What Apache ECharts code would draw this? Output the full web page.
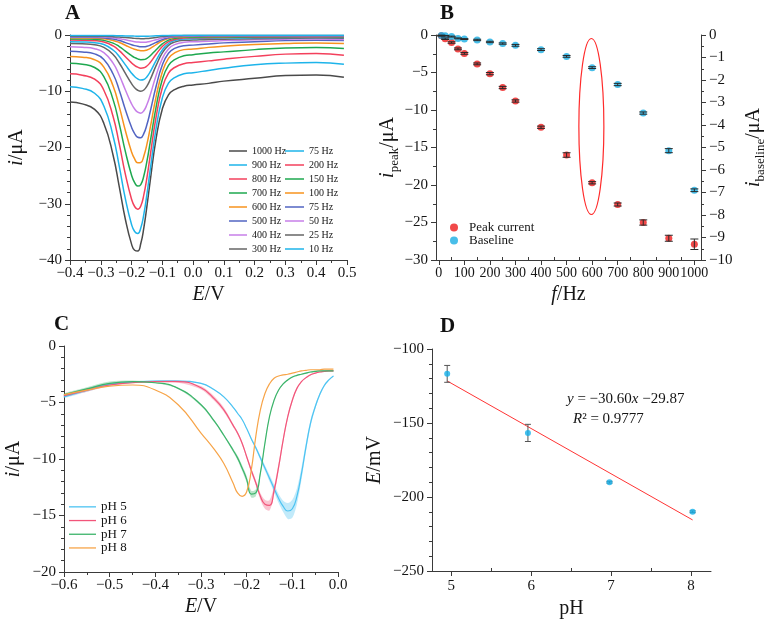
<!DOCTYPE html>
<html>
<head>
<meta charset="utf-8">
<script src="https://cdn.jsdelivr.net/npm/echarts@6/dist/echarts.min.js"></script>
<style>
  html, body { margin: 0; padding: 0; background: #fff; }
  #main { width: 768px; height: 623px; }
</style>
</head>
<body>
<div id="main"></div>
<script>
// ---------- A: square-wave voltammograms at different frequencies ----------
var potA = [-0.40, -0.36, -0.32, -0.29, -0.26, -0.24, -0.22, -0.20, -0.19, -0.18, -0.17, -0.16, -0.15,
  -0.14, -0.12, -0.10, -0.08, -0.06, -0.03, 0.00, 0.05, 0.10, 0.20, 0.30, 0.40, 0.49];
var i1000 = [-11.9, -12.24, -13.23, -15.72, -21.38, -26.94, -32.80, -37.18, -38.27, -38.41, -37.07, -34.25, -30.44,
  -26.19, -18.33, -13.15, -10.64, -9.72, -9.1, -8.9, -8.6, -8.2, -7.7, -7.2, -7.1, -7.5];
var i900 = [-9.2, -9.49, -10.36, -12.63, -17.95, -23.32, -29.15, -33.68, -34.93, -35.3, -34.32, -31.84, -28.30,
  -24.26, -16.50, -11.19, -8.55, -7.56, -6.9, -6.7, -6.3, -5.9, -5.3, -5.0, -4.9, -5.2];
var i800 = [-6.9, -7.14, -7.86, -9.82, -14.50, -19.37, -24.78, -29.19, -30.49, -30.98, -30.39, -28.39, -25.34,
  -21.68, -14.49, -9.39, -6.78, -5.78, -5.1, -4.9, -4.6, -4.3, -3.8, -3.4, -3.3, -3.6];
var i700 = [-5.0, -5.18, -5.78, -7.42, -11.49, -15.81, -20.74, -24.93, -26.24, -26.86, -26.58, -25.02, -22.43,
  -19.25, -12.72, -7.92, -5.40, -4.39, -3.7, -3.5, -3.2, -3.0, -2.6, -2.3, -2.2, -2.4];
var i600 = [-3.8, -3.94, -4.40, -5.71, -9.07, -12.73, -17.02, -20.79, -22.04, -22.71, -22.66, -21.50, -19.40,
  -16.70, -10.92, -6.56, -4.16, -3.19, -2.6, -2.5, -2.2, -2.0, -1.7, -1.5, -1.4, -1.5];
var i500 = [-2.9, -3.01, -3.36, -4.35, -6.94, -9.81, -13.28, -16.41, -17.52, -18.17, -18.25, -17.50, -15.92,
  -13.78, -9.07, -5.34, -3.24, -2.37, -1.9, -1.8, -1.6, -1.4, -1.2, -1.0, -0.95, -1.0];
var i400 = [-2.1, -2.19, -2.43, -3.14, -5.01, -7.16, -9.77, -12.25, -13.16, -13.73, -13.9, -13.46, -12.36,
  -10.79, -7.16, -4.19, -2.47, -1.72, -1.3, -1.2, -1.1, -1.0, -0.85, -0.75, -0.7, -0.8];
var i300 = [-1.5, -1.56, -1.72, -2.20, -3.48, -4.98, -6.84, -8.66, -9.36, -9.82, -9.99, -9.78, -9.08,
  -8.01, -5.41, -3.19, -1.85, -1.26, -0.95, -0.9, -0.8, -0.75, -0.65, -0.6, -0.55, -0.6];
var i250 = [-1.2, -1.24, -1.36, -1.70, -2.67, -3.82, -5.31, -6.79, -7.38, -7.79, -7.99, -7.90, -7.41,
  -6.59, -4.51, -2.66, -1.51, -0.99, -0.7, -0.65, -0.6, -0.55, -0.5, -0.45, -0.42, -0.45];
var i200 = [-0.9, -0.93, -1.01, -1.26, -1.95, -2.78, -3.87, -4.96, -5.41, -5.72, -5.89, -5.84, -5.51,
  -4.94, -3.42, -2.05, -1.19, -0.79, -0.55, -0.5, -0.47, -0.44, -0.4, -0.37, -0.35, -0.37];
var i150 = [-0.7, -0.72, -0.77, -0.95, -1.44, -2.05, -2.85, -3.67, -4.01, -4.25, -4.38, -4.37, -4.14,
  -3.73, -2.61, -1.57, -0.91, -0.60, -0.42, -0.4, -0.37, -0.35, -0.32, -0.3, -0.28, -0.3];
var i100 = [-0.5, -0.52, -0.56, -0.67, -0.97, -1.34, -1.82, -2.33, -2.54, -2.70, -2.78, -2.79, -2.66,
  -2.41, -1.71, -1.05, -0.63, -0.42, -0.3, -0.28, -0.26, -0.25, -0.23, -0.21, -0.2, -0.21];
var i75 = [-0.40, -0.41, -0.44, -0.51, -0.72, -0.99, -1.35, -1.73, -1.89, -2.01, -2.09, -2.09, -2.01,
  -1.83, -1.32, -0.82, -0.49, -0.33, -0.23, -0.22, -0.2, -0.19, -0.18, -0.17, -0.16, -0.17];
var i50 = [-0.30, -0.30, -0.32, -0.36, -0.49, -0.65, -0.86, -1.08, -1.18, -1.25, -1.29, -1.30, -1.25,
  -1.14, -0.83, -0.52, -0.32, -0.23, -0.17, -0.16, -0.15, -0.14, -0.13, -0.12, -0.12, -0.12];
var i25 = [-0.20, -0.20, -0.21, -0.23, -0.29, -0.36, -0.46, -0.55, -0.60, -0.63, -0.65, -0.65, -0.62,
  -0.57, -0.43, -0.28, -0.19, -0.14, -0.11, -0.1, -0.1, -0.1, -0.09, -0.09, -0.08, -0.09];
var i10 = [-0.08, -0.08, -0.08, -0.09, -0.10, -0.13, -0.16, -0.19, -0.20, -0.21, -0.22, -0.22, -0.21,
  -0.20, -0.15, -0.10, -0.07, -0.06, -0.05, -0.05, -0.05, -0.05, -0.04, -0.04, -0.04, -0.04];

var namesA1 = ['1000 Hz', '900 Hz', '800 Hz', '700 Hz', '600 Hz', '500 Hz', '400 Hz', '300 Hz'];
var namesA2 = ['250 Hz', '200 Hz', '150 Hz', '100 Hz', '75 Hz', '50 Hz', '25 Hz', '10 Hz'];
var curvesA = [i1000, i900, i800, i700, i600, i500, i400, i300, i250, i200, i150, i100, i75, i50, i25, i10];
var colorsA = ['#4a4a4a', '#1eb4ea', '#f3405c', '#1ea84f', '#f7931e', '#5264c2', '#c77fe8', '#666666',
  '#1eb4ea', '#f3405c', '#1ea84f', '#f7931e', '#5264c2', '#c77fe8', '#666666', '#1eb4ea'];

// ---------- B: peak current and baseline vs frequency ----------
var freqB = [10, 25, 50, 75, 100, 150, 200, 250, 300, 400, 500, 600, 700, 800, 900, 1000];
var peakB = [-0.1, -0.5, -1.0, -1.85, -2.45, -3.85, -5.15, -7.0, -8.8, -12.3, -16.0, -19.7, -22.6, -25.0, -27.1, -27.9];
var peakErrB = [0.05, 0.1, 0.1, 0.12, 0.12, 0.12, 0.15, 0.15, 0.15, 0.15, 0.3, 0.15, 0.2, 0.35, 0.4, 0.7];
var baseB = [-0.02, -0.03, -0.07, -0.15, -0.18, -0.22, -0.31, -0.38, -0.46, -0.65, -0.95, -1.45, -2.2, -3.47, -5.14, -6.9];
var baseErrB = [0.01, 0.01, 0.02, 0.02, 0.02, 0.03, 0.03, 0.03, 0.04, 0.04, 0.04, 0.04, 0.05, 0.05, 0.09, 0.06];
var ticksB = [0, 100, 200, 300, 400, 500, 600, 700, 800, 900, 1000];
var minorB = [50, 150, 250, 350, 450, 550, 650, 750, 850, 950];
var ovalB = [597, -12.2]; // centre of the red ring around 600 Hz

// ---------- C: voltammograms at different pH ----------
var potC = [-0.60, -0.55, -0.50, -0.45, -0.40, -0.35, -0.30, -0.27, -0.25, -0.23, -0.22, -0.21, -0.20, -0.19,
  -0.18, -0.17, -0.16, -0.15, -0.14, -0.13, -0.12, -0.11, -0.10, -0.09, -0.08, -0.07, -0.06, -0.05, -0.04,
  -0.03, -0.02, -0.01];
var ph5 = [-4.5, -3.9, -3.4, -3.2, -3.1, -3.1, -3.3, -3.9, -4.5, -5.4, -5.95, -6.5, -7.3, -8.2, -9.0, -9.9,
  -10.8, -11.7, -12.6, -13.5, -14.2, -14.6, -14.4, -13.3, -11.3, -8.9, -6.8, -5.4, -4.3, -3.5, -3.0, -2.65];
var ph6 = [-4.4, -3.9, -3.45, -3.25, -3.15, -3.15, -3.7, -4.7, -5.65, -7.0, -7.7, -8.6, -9.8, -11.0, -12.1, -13.3,
  -14.0, -14.1, -12.8, -10.7, -8.3, -6.25, -4.8, -3.75, -3.15, -2.8, -2.55, -2.4, -2.3, -2.25, -2.2, -2.2];
var ph7 = [-4.3, -3.8, -3.3, -3.15, -3.25, -3.75, -5.2, -6.7, -7.9, -9.2, -9.9, -10.8, -11.8, -13.1, -13.0, -11.25,
  -8.6, -6.25, -4.8, -3.9, -3.35, -3.0, -2.75, -2.6, -2.5, -2.4, -2.3, -2.25, -2.2, -2.2, -2.2, -2.2];
var ph8 = [-4.3, -3.9, -3.55, -3.45, -3.9, -5.2, -7.7, -9.2, -10.4, -12.1, -13.0, -13.3, -12.9, -11.0, -8.0, -5.65,
  -4.2, -3.35, -2.85, -2.65, -2.55, -2.5, -2.4, -2.3, -2.2, -2.15, -2.1, -2.1, -2.1, -2.05, -2.05, -2.05];
// half width of the shaded spread around each curve
var band5 = [0.1, 0.15, 0.1, 0.05, 0.05, 0.05, 0.05, 0.05, 0.05, 0.05, 0.05, 0.05, 0.05, 0.1, 0.15, 0.2,
  0.25, 0.3, 0.35, 0.4, 0.5, 0.7, 0.8, 0.7, 0.55, 0.4, 0.3, 0.2, 0.15, 0.1, 0.05, 0.05];
var band6 = [0.1, 0.15, 0.1, 0.05, 0.05, 0.1, 0.15, 0.2, 0.2, 0.15, 0.15, 0.15, 0.15, 0.2, 0.25, 0.3,
  0.4, 0.45, 0.4, 0.35, 0.25, 0.2, 0.15, 0.1, 0.05, 0.05, 0.05, 0.05, 0.05, 0.05, 0.05, 0.05];
var band7 = [0.1, 0.15, 0.15, 0.1, 0.05, 0.05, 0.1, 0.1, 0.1, 0.15, 0.2, 0.25, 0.3, 0.3, 0.3, 0.2,
  0.15, 0.1, 0.05, 0.05, 0.05, 0.05, 0.05, 0.05, 0.05, 0.05, 0.05, 0.05, 0.05, 0.05, 0.05, 0.05];
var namesC = ['pH 5', 'pH 6', 'pH 7', 'pH 8'];
var colorsC = ['#4cc3f2', '#f2557a', '#3cb46a', '#f7a448'];

// ---------- D: peak potential vs pH ----------
var phD = [4.95, 5.96, 6.98, 8.02];
var epD = [-116.8, -156.7, -190.0, -210.0];
var epErrD = [5.7, 5.8, 0.6, 0.6];
var fitX = [4.95, 8.02];
var fitY = [-121.6, -215.5];
var ticksD = [5, 6, 7, 8];
var minorD = [5.5, 6.5, 7.5];

var FONT = 'Liberation Serif';
var INK = '#151515';
var AXIS = '#3a3a3a';

function minus(v, dec) {
  var a = Math.abs(v);
  var s = dec ? a.toFixed(dec) : String(Math.round(a));
  return (v < -1e-9 ? '\u2212' : '') + s;
}
function fmt(dec) {
  return function (v) { return minus(v, dec); };
}
function zip(xs, ys) {
  return xs.map(function (x, k) { return [x, ys[k]]; });
}
function nameStyle() {
  return {
    fontFamily: FONT, fontSize: 20, color: INK, lineHeight: 26,
    rich: {
      i: { fontFamily: FONT, fontSize: 20, fontStyle: 'italic', color: INK, lineHeight: 26 },
      s: { fontFamily: FONT, fontSize: 13, color: INK, lineHeight: 26, verticalAlign: 'bottom' }
    }
  };
}
function valAxis(o) {
  var ax = {
    type: 'value', gridIndex: o.grid, min: o.min, max: o.max, position: o.position,
    axisLine: { show: true, onZero: false, lineStyle: { color: AXIS, width: 1 } },
    axisTick: { show: true, length: 5, lineStyle: { color: AXIS } },
    minorTick: { show: !!o.minor, splitNumber: o.minor || 5, length: 3, lineStyle: { color: AXIS } },
    splitLine: { show: false },
    axisLabel: { formatter: fmt(o.dec), fontFamily: FONT, fontSize: o.fs || 15, color: INK,
      margin: o.margin || 7, showMinLabel: true, showMaxLabel: true },
    name: o.name, nameLocation: 'middle', nameGap: o.gap, nameTextStyle: nameStyle()
  };
  if (o.interval) ax.interval = o.interval;
  if (o.rotate) ax.nameRotate = o.rotate;
  if (o.ticks) {
    ax.axisLabel.customValues = o.ticks;
    ax.axisTick.customValues = o.ticks;
  }
  return ax;
}
// bare axis that only carries minor ticks at given values
function minorAxis(grid, min, max, values) {
  return {
    type: 'value', gridIndex: grid, min: min, max: max, position: 'bottom',
    axisLine: { show: false, onZero: false },
    axisTick: { show: true, inside: true, length: 3, customValues: values, lineStyle: { color: AXIS } },
    axisLabel: { show: false, customValues: values },
    splitLine: { show: false }
  };
}
function errorBar(cap, color) {
  return function (params, api) {
    var x = api.value(0);
    var top = api.coord([x, api.value(2)]);
    var bot = api.coord([x, api.value(1)]);
    var st = { stroke: color, lineWidth: 1 };
    return {
      type: 'group',
      children: [
        { type: 'line', shape: { x1: top[0], y1: top[1], x2: bot[0], y2: bot[1] }, style: st },
        { type: 'line', shape: { x1: top[0] - cap, y1: top[1], x2: top[0] + cap, y2: top[1] }, style: st },
        { type: 'line', shape: { x1: bot[0] - cap, y1: bot[1], x2: bot[0] + cap, y2: bot[1] }, style: st }
      ]
    };
  };
}
function errData(xs, ys, es) {
  return xs.map(function (x, k) { return [x, ys[k] - es[k], ys[k] + es[k]]; });
}
function bandRender(xs, ys, half, color) {
  return function (params, api) {
    var up = [], dn = [];
    for (var k = 0; k < xs.length; k++) {
      up.push(api.coord([xs[k], ys[k] + half[k]]));
      dn.unshift(api.coord([xs[k], ys[k] - half[k]]));
    }
    return {
      type: 'polygon', silent: true,
      shape: { points: up.concat(dn), smooth: 0.3 },
      style: { fill: color, opacity: 0.35 }
    };
  };
}

var series = [];
curvesA.forEach(function (arr, k) {
  series.push({
    name: k < 8 ? namesA1[k] : namesA2[k - 8], type: 'line', xAxisIndex: 0, yAxisIndex: 0,
    data: zip(potA, arr), smooth: true, symbol: 'none', color: colorsA[k],
    lineStyle: { width: 1.5 }, z: 3
  });
});

series.push(
  { name: 'Peak current', type: 'scatter', xAxisIndex: 1, yAxisIndex: 1, data: zip(freqB, peakB),
    symbolSize: 7, itemStyle: { color: '#ee1c1c' }, z: 3 },
  { name: 'Baseline', type: 'scatter', xAxisIndex: 1, yAxisIndex: 2, data: zip(freqB, baseB),
    symbolSize: 7, itemStyle: { color: '#1aaee3' }, z: 3 },
  { type: 'custom', xAxisIndex: 1, yAxisIndex: 1, data: errData(freqB, peakB, peakErrB),
    renderItem: errorBar(4, '#2a2a2a'), encode: { x: 0, y: [1, 2] }, z: 5, silent: true },
  { type: 'custom', xAxisIndex: 1, yAxisIndex: 2, data: errData(freqB, baseB, baseErrB),
    renderItem: errorBar(4, '#2a2a2a'), encode: { x: 0, y: [1, 2] }, z: 5, silent: true }
);

var curvesC = [ph5, ph6, ph7, ph8];
var bandsC = [band5, band6, band7];
bandsC.forEach(function (b, k) {
  series.push({ type: 'custom', xAxisIndex: 3, yAxisIndex: 3, data: [[potC[0], curvesC[k][0]]],
    renderItem: bandRender(potC, curvesC[k], b, colorsC[k]), z: 1, silent: true });
});
curvesC.forEach(function (arr, k) {
  series.push({ name: namesC[k], type: 'line', xAxisIndex: 3, yAxisIndex: 3, data: zip(potC, arr),
    smooth: true, symbol: 'none', color: colorsC[k], lineStyle: { width: 1.2 }, z: 3 });
});

series.push(
  { type: 'line', xAxisIndex: 4, yAxisIndex: 4, data: zip(fitX, fitY), symbol: 'none',
    lineStyle: { color: '#ff3434', width: 1 }, z: 2 },
  { type: 'custom', xAxisIndex: 4, yAxisIndex: 4, data: errData(phD, epD, epErrD),
    renderItem: errorBar(3, '#555555'), encode: { x: 0, y: [1, 2] }, z: 3, silent: true },
  { type: 'scatter', xAxisIndex: 4, yAxisIndex: 4, data: zip(phD, epD), symbolSize: 6,
    itemStyle: { color: '#14b0ea' }, z: 4 }
);

var titleStyle = { fontFamily: FONT, fontSize: 21, fontWeight: 'bold', color: '#111' };
var legendText = function (size, lh) {
  return { fontFamily: FONT, fontSize: size, color: INK, lineHeight: lh };
};

var option = {
  backgroundColor: '#ffffff',
  animation: false,
  title: [
    { text: 'A', left: 65, top: 3, padding: 0, textStyle: titleStyle },
    { text: 'B', left: 440, top: 3, padding: 0, textStyle: titleStyle },
    { text: 'C', left: 54, top: 314, padding: 0, textStyle: titleStyle },
    { text: 'D', left: 440, top: 316, padding: 0, textStyle: titleStyle }
  ],
  grid: [
    { left: 70, top: 35, width: 277, height: 225 },
    { left: 436, top: 35, width: 275, height: 225 },
    { left: 59, top: 346, width: 279, height: 226 },
    { left: 432, top: 349, width: 279, height: 225 }
  ],
  xAxis: [
    valAxis({ grid: 0, min: -0.4, max: 0.5, interval: 0.1, minor: 2, dec: 1, position: 'bottom',
      name: '{i|E}/V', gap: 22, margin: 6 }),
    valAxis({ grid: 1, min: -11, max: 1026, ticks: ticksB, dec: 0, position: 'bottom', fs: 14,
      name: '{i|f}/Hz', gap: 22, margin: 6 }),
    minorAxis(1, -11, 1026, minorB),
    valAxis({ grid: 2, min: -0.6, max: 0, interval: 0.1, minor: 2, dec: 1, position: 'bottom',
      name: '{i|E}/V', gap: 21, margin: 6 }),
    valAxis({ grid: 3, min: 4.76, max: 8.25, ticks: ticksD, dec: 0, position: 'bottom',
      name: 'pH', gap: 25, margin: 8 }),
    minorAxis(3, 4.76, 8.25, minorD)
  ],
  yAxis: [
    valAxis({ grid: 0, min: -40, max: 0, interval: 10, minor: 5, dec: 0, position: 'left',
      name: '{i|i}/\u03bcA', gap: 40, margin: 8 }),
    valAxis({ grid: 1, min: -30, max: 0, interval: 5, minor: 2, dec: 0, position: 'left',
      name: '{i|i}{s|peak}/\u03bcA', gap: 35, margin: 8 }),
    valAxis({ grid: 1, min: -10, max: 0, interval: 1, minor: 2, dec: 0, position: 'right',
      name: '{i|i}{s|baseline}/\u03bcA', gap: 40, rotate: 90, margin: 8 }),
    valAxis({ grid: 2, min: -20, max: 0, interval: 5, minor: 5, dec: 0, position: 'left',
      name: '{i|i}/\u03bcA', gap: 37, margin: 8 }),
    valAxis({ grid: 3, min: -250, max: -100, interval: 50, minor: 5, dec: 0, position: 'left',
      name: '{i|E}/mV', gap: 44, margin: 8 })
  ],
  legend: [
    { data: namesA1, orient: 'vertical', left: 229, top: 144, padding: 0, itemGap: 0, icon: 'rect',
      itemWidth: 18, itemHeight: 1.5, selectedMode: false, textStyle: legendText(10, 14) },
    { data: namesA2, orient: 'vertical', left: 285, top: 144, padding: 0, itemGap: 0, icon: 'rect',
      itemWidth: 19, itemHeight: 1.5, selectedMode: false, textStyle: legendText(10, 14),
      formatter: function (n) { return n === '250 Hz' ? '75 Hz' : n; } },
    { data: ['Peak current', 'Baseline'], orient: 'vertical', left: 450, top: 221, padding: 0, itemGap: 0,
      icon: 'circle', itemWidth: 8, itemHeight: 8, selectedMode: false,
      textStyle: { fontFamily: FONT, fontSize: 13, color: INK, lineHeight: 13, padding: [0, 0, 0, 6] } },
    { data: namesC, orient: 'vertical', left: 69, top: 500, padding: 0, itemGap: 0, icon: 'rect',
      itemWidth: 27, itemHeight: 1.3, selectedMode: false, textStyle: legendText(13, 13.7) }
  ],
  series: series
};

var chart = echarts.init(document.getElementById('main'), null, { renderer: 'canvas' });
chart.setOption(option);

var ctr = chart.convertToPixel({ xAxisIndex: 1, yAxisIndex: 1 }, ovalB);
var eqRich = { i: { fontFamily: FONT, fontSize: 15, fontStyle: 'italic', fill: INK } };
chart.setOption({
  graphic: [
    { type: 'ellipse', z: 100, shape: { cx: ctr[0], cy: ctr[1], rx: 12.5, ry: 88 },
      style: { fill: 'none', stroke: '#ff2a2a', lineWidth: 1.2 } },
    { type: 'text', z: 100, x: 567, y: 399,
      style: { text: '{i|y} = \u221230.60{i|x} \u221229.87', fontFamily: FONT, fontSize: 15, fill: INK,
        verticalAlign: 'middle', rich: eqRich } },
    { type: 'text', z: 100, x: 573, y: 419,
      style: { text: '{i|R}\u00b2 = 0.9777', fontFamily: FONT, fontSize: 15, fill: INK,
        verticalAlign: 'middle', rich: eqRich } }
  ]
});
</script>
</body>
</html>
